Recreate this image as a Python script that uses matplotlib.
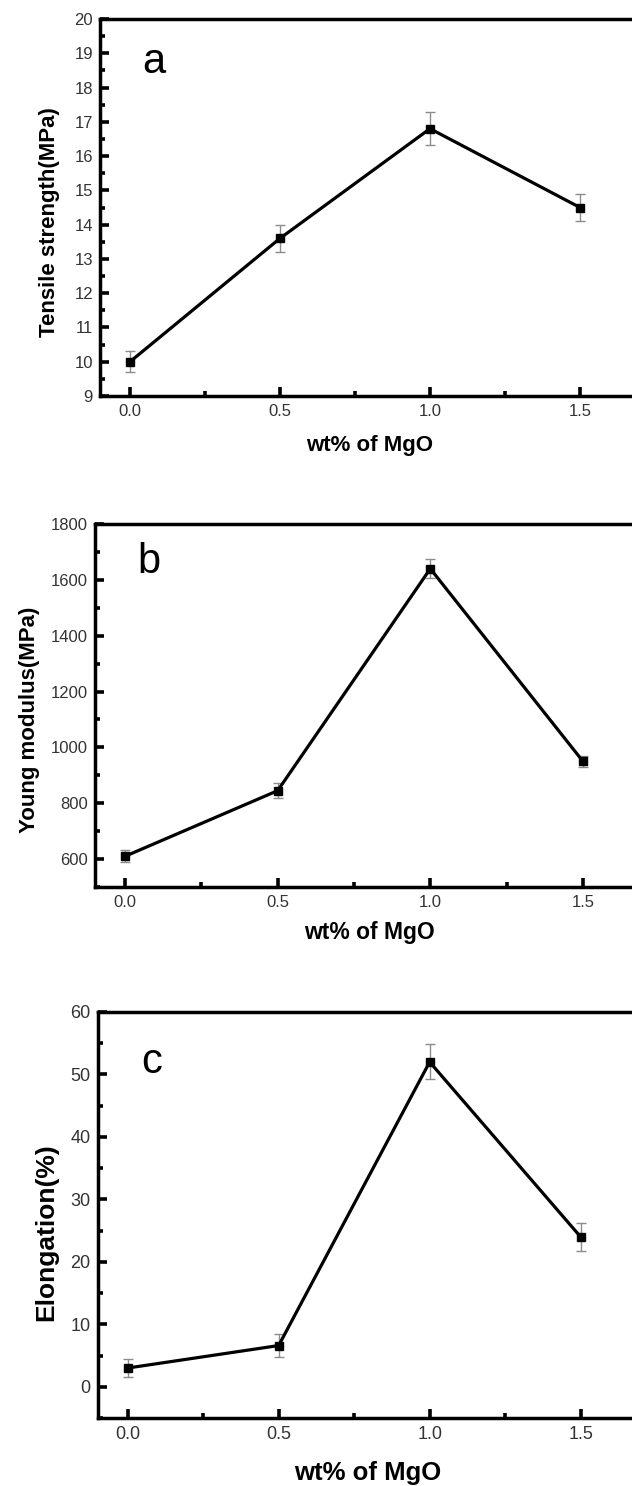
import matplotlib
matplotlib.use("Agg")
import matplotlib.pyplot as plt
from matplotlib.ticker import MultipleLocator, FormatStrFormatter

plt.rcParams['font.family'] = ['Liberation Sans', 'DejaVu Sans']

# data
mgo = [0.0, 0.5, 1.0, 1.5]

tensile = [10.0, 13.6, 16.8, 14.5]
tensile_err = [0.3, 0.4, 0.48, 0.4]

young = [610, 845, 1640, 950]
young_err = [22, 26, 33, 19]

elong = [3.0, 6.6, 52.0, 24.0]
elong_err = [1.5, 1.9, 2.8, 2.2]

W, H = 632, 1486
fig = plt.figure(figsize=(W / 100, H / 100), dpi=100)


def box(left, top, right, bottom):
    # pixel box -> figure fraction
    return [left / W, 1 - bottom / H, (right - left) / W, (bottom - top) / H]


def panel(rect, y, yerr, ylim, major, minor, letter, letter_xy,
          ylabel, ylabel_xy, ylabel_size, xlabel_xy, xlabel_size, tick_size):
    ax = fig.add_axes(box(*rect))
    ax.errorbar(mgo, y, yerr=yerr, fmt='none', ecolor='#8c8c8c',
                elinewidth=1.0, capsize=3.5, capthick=1.0, zorder=1)
    ax.plot(mgo, y, color='black', lw=2.3, marker='s', ms=6, zorder=2)
    ax.set_xlim(-0.1, 1.7)
    ax.set_ylim(*ylim)
    ax.xaxis.set_major_locator(MultipleLocator(0.5))
    ax.xaxis.set_minor_locator(MultipleLocator(0.25))
    ax.xaxis.set_major_formatter(FormatStrFormatter('%.1f'))
    ax.yaxis.set_major_locator(MultipleLocator(major))
    ax.yaxis.set_minor_locator(MultipleLocator(minor))
    for s in ax.spines.values():
        s.set_linewidth(2.5)
    ax.tick_params(which='both', direction='in', width=2.6, top=False, right=False,
                   labelsize=tick_size, labelcolor='#333333')
    ax.tick_params(which='major', length=6.5, pad=6)
    ax.tick_params(which='minor', length=3.5)
    ax.tick_params(axis='y', which='major', pad=5)

    fig.text(letter_xy[0] / W, 1 - letter_xy[1] / H, letter, fontsize=30,
             ha='left', va='center')
    fig.text(ylabel_xy[0] / W, 1 - ylabel_xy[1] / H, ylabel, rotation=90,
             fontsize=ylabel_size, fontweight='bold', ha='center', va='center')
    fig.text(xlabel_xy[0] / W, 1 - xlabel_xy[1] / H, 'wt% of MgO',
             fontsize=xlabel_size, fontweight='bold', ha='center', va='center')
    return ax


panel((100, 19, 640, 396), tensile, tensile_err, (9, 20), 1, 0.5,
      'a', (142, 62), 'Tensile strength(MPa)', (50, 222), 16,
      (370, 445), 16, 12)

panel((94.5, 524, 644, 887), young, young_err, (500, 1800), 200, 100,
      'b', (137, 562), 'Young modulus(MPa)', (30, 720), 16,
      (369, 933), 16.5, 12)

panel((97.5, 1012, 641, 1418), elong, elong_err, (-5, 60), 10, 5,
      'c', (141, 1062), 'Elongation(%)', (46, 1232), 19,
      (368, 1473), 18.5, 13)

plt.savefig('out.png', dpi=100)
plt.close()
